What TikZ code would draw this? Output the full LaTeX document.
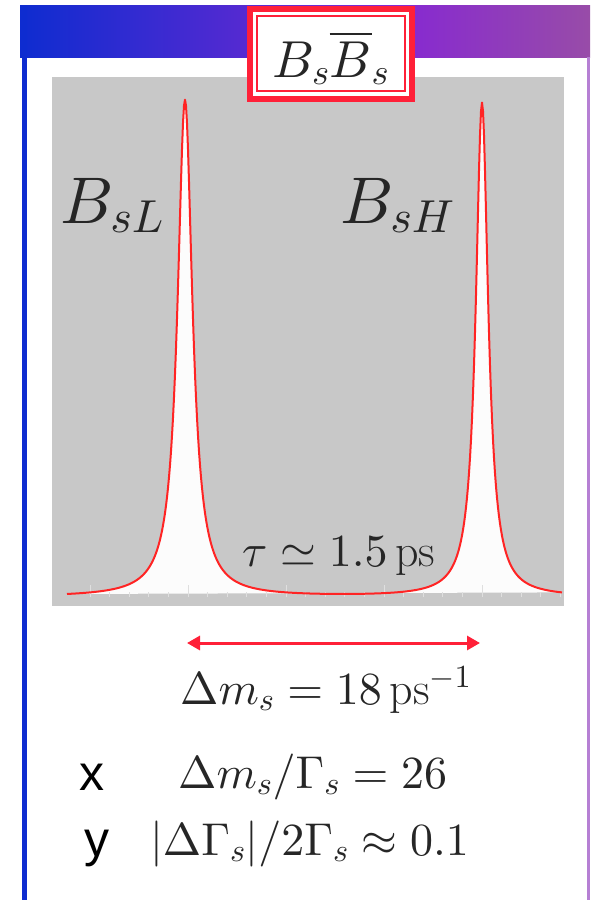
\documentclass[tikz,border=0pt]{standalone}
\usepackage{fontspec}
\newfontfamily\sidefont{Liberation Sans}
\usetikzlibrary{positioning,arrows.meta}
\DeclareFontShape{OT1}{cmr}{m}{n}{<->cmr10}{}
\DeclareFontShape{OML}{cmm}{m}{it}{<->cmmi10}{\skewchar\font='177}
\DeclareFontShape{OMS}{cmsy}{m}{n}{<->cmsy10}{\skewchar\font='60}
\DeclareFontShape{OMX}{cmex}{m}{n}{<->cmex10}{}

\definecolor{barblue}{RGB}{14,44,208}
\definecolor{barviolet}{RGB}{134,40,210}
\definecolor{barmauve}{RGB}{152,76,168}
\definecolor{edgelilac}{RGB}{182,128,212}
\definecolor{plotgray}{RGB}{200,200,200}
\definecolor{peakred}{RGB}{255,36,36}
\definecolor{framered}{RGB}{255,32,56}
\definecolor{textgray}{RGB}{38,38,38}

\begin{document}
\begin{tikzpicture}[
    x=1pt, y=-1pt,
    every node/.style={text=textgray, inner sep=0pt},
    titlebox/.style={draw=framered, line width=6pt, fill=white,
      minimum width=162pt, minimum height=90pt,
      text height=56pt, text depth=10pt, font=\fontsize{52}{56}\selectfont},
    peaklabel/.style={anchor=base west, font=\fontsize{66}{70}\selectfont},
    formula/.style={anchor=base west, font=\fontsize{46}{50}\selectfont},
    sidelabel/.style={anchor=base west, text=black, font=\sidefont\fontsize{50}{54}\selectfont},
    tick/.style={draw=white!75!gray, line width=0.7pt},
    declare function={
      peakL(\x)=497/(1+((\x-185)/9)^2);
      peakH(\x)=494/(1+((\x-482)/7.5)^2);
    }
  ]
  \useasboundingbox (0,0) rectangle (590,900);
  \fill[white] (0,0) rectangle (590,900);

  % top bar and side edges
  \shade[left color=barblue, right color=barviolet] (20,5) rectangle (400,57);
  \shade[left color=barviolet, right color=barmauve] (399,5) rectangle (590,57);
  \fill[barblue] (22,5) rectangle (27,900);
  \fill[edgelilac] (586.5,57) rectangle (589.5,900);

  % the two mass peaks
  \fill[plotgray] (52,77) rectangle (564,606);
  \fill[white!98!gray] plot[domain=67:562, samples=496] (\x, {597-peakL(\x)-peakH(\x)}) -- cycle;
  \foreach \i in {0,...,24} {
    \pgfmathsetmacro\tx{90+19.6*\i}
    \pgfmathsetmacro\th{ifthenelse(mod(\i,5)==0,12,5)}
    \draw[tick] (\tx,597) -- (\tx,597-\th);
  }
  \draw[peakred, line width=2pt, line join=round]
    plot[domain=67:562, samples=496] (\x, {597-peakL(\x)-peakH(\x)});

  \node[peaklabel] (light) at (60,223) {$B_{sL}$};
  \node[peaklabel] (heavy) at (340,223) {$B_{sH}$};
  \node[formula] (tau) at (242,566) {$\tau \simeq 1.5\,\mathrm{ps}$};

  % title
  \node[titlebox] (title) at (331,54) {$B_s\overline{B}_s$};
  \draw[framered, line width=2.2pt] (257,16) rectangle (405,91);

  % mass difference
  \coordinate (posL) at (187,643);
  \coordinate (posH) at (480,643);
  \draw[{Triangle[length=13pt,width=14pt]}-{Triangle[length=13pt,width=14pt]},
    framered, line width=3pt] (posL) -- (posH);
  \node[formula] (dm) at (180,704) {$\Delta m_s = 18\,\mathrm{ps}^{-1}$};

  \node[formula] (xval) at (178,788) {$\Delta m_s/\Gamma_s = 26$};
  \node[formula] (yval) at (150,855) {$|\Delta\Gamma_s|/2\Gamma_s \approx 0.1$};
  \node[sidelabel] (xlab) at (79,790) {x};
  \node[sidelabel] (ylab) at (84,856) {y};
\end{tikzpicture}
\end{document}
